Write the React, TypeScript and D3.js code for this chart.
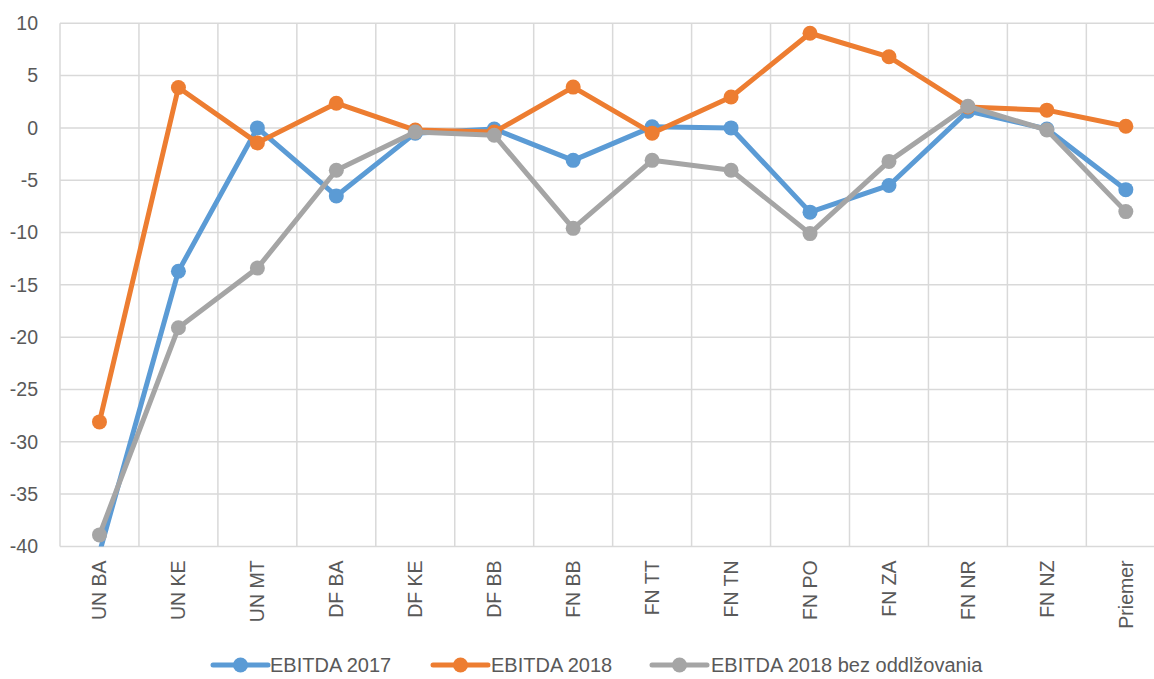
import React from "react";
import * as d3 from "d3";

const categories = ["UN BA", "UN KE", "UN MT", "DF BA", "DF KE", "DF BB", "FN BB", "FN TT", "FN TN", "FN PO", "FN ZA", "FN NR", "FN NZ", "Priemer"];
const ebitda2017 = [-40.6, -13.7, 0, -6.5, -0.5, -0.1, -3.1, 0.1, 0, -8.05, -5.5, 1.6, -0.1, -5.9];
const ebitda2018 = [-28.1, 3.86, -1.43, 2.36, -0.2, -0.4, 3.9, -0.5, 2.96, 9.05, 6.8, 2.0, 1.7, 0.16];
const ebitda2018Bez = [-38.9, -19.1, -13.4, -4.05, -0.4, -0.7, -9.6, -3.1, -4.05, -10.1, -3.2, 2.07, -0.2, -8.0];
const yTicks = [10, 5, 0, -5, -10, -15, -20, -25, -30, -35, -40];
const seriesNames = ["EBITDA 2017", "EBITDA 2018", "EBITDA 2018 bez oddlžovania"];
const seriesColors = ["#5B9BD5", "#ED7D31", "#A5A5A5"];

const W = 1154, H = 679;
const left = 60, top = 23.3, bottom = 546.4;
const band = 78.95;
const font = "'Liberation Sans', Arial, sans-serif";
const textColor = "#595959";

export default function App() {
  const x = d3.scaleBand<string>().domain(categories).range([left, left + band * categories.length]).padding(0);
  const y = d3.scaleLinear().domain([-40, 10]).range([bottom, top]);
  const cx = (c: string) => (x(c) as number) + x.bandwidth() / 2;
  const line = d3.line<number>().x((_, i) => cx(categories[i])).y((d) => y(d));
  const allSeries = [ebitda2017, ebitda2018, ebitda2018Bez];
  const gridX = d3.range(categories.length + 1).map((i) => left + i * x.bandwidth());

  const legendItems = [
    { lx: 213, tx: 270 },
    { lx: 433, tx: 491 },
    { lx: 652, tx: 711 },
  ];

  return (
    <svg width={W} height={H} style={{ position: "absolute", left: 0, top: 0, background: "#fff" }} fontFamily={font}>
      <defs>
        <clipPath id="plotclip">
          <rect x={left} y={top - 10} width={W - left} height={bottom - top + 10} />
        </clipPath>
      </defs>
      {yTicks.map((t) => (
        <line key={"gy" + t} x1={left} x2={W} y1={y(t)} y2={y(t)} stroke="#D9D9D9" strokeWidth={1.5} />
      ))}
      {gridX.map((gx, i) => (
        <line key={"gx" + i} x1={gx} x2={gx} y1={top} y2={bottom} stroke="#D9D9D9" strokeWidth={1.5} />
      ))}
      {yTicks.map((t) => (
        <text key={"ty" + t} x={38} y={y(t)} dy="0.35em" textAnchor="end" fontSize={19.5} fill={textColor}>
          {t}
        </text>
      ))}
      {categories.map((c) => (
        <text
          key={"tx" + c}
          transform={`translate(${cx(c) + 7},${bottom + 14}) rotate(-90)`}
          textAnchor="end"
          fontSize={19.5}
          fill={textColor}
        >
          {c}
        </text>
      ))}
      <g clipPath="url(#plotclip)">
        {allSeries.map((s, si) => (
          <g key={"s" + si}>
            <path d={line(s) || ""} fill="none" stroke={seriesColors[si]} strokeWidth={5} strokeLinejoin="round" strokeLinecap="round" />
            {s.map((v, i) =>
              v >= -40 ? <circle key={i} cx={cx(categories[i])} cy={y(v)} r={7.5} fill={seriesColors[si]} /> : null
            )}
          </g>
        ))}
      </g>
      {seriesNames.map((n, i) => (
        <g key={"lg" + i}>
          <line x1={legendItems[i].lx} x2={legendItems[i].lx + 55} y1={665} y2={665} stroke={seriesColors[i]} strokeWidth={5} strokeLinecap="round" />
          <circle cx={legendItems[i].lx + 27.5} cy={665} r={7.5} fill={seriesColors[i]} />
          <text x={legendItems[i].tx} y={665} dy="0.35em" fontSize={20} fill={textColor}>
            {n}
          </text>
        </g>
      ))}
    </svg>
  );
}
